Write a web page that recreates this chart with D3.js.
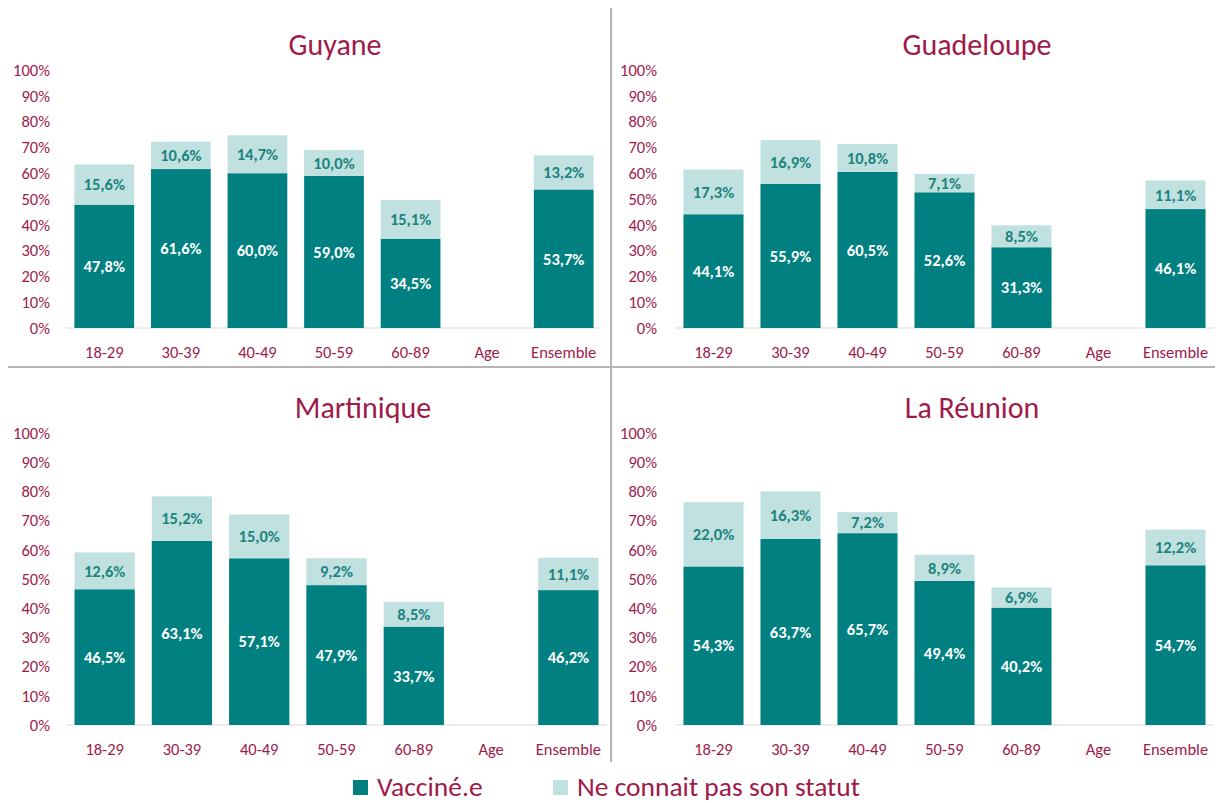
<!DOCTYPE html>
<html>
<head>
<meta charset="utf-8">
<script src="https://cdn.jsdelivr.net/npm/d3@7"></script>
<style>
  body { margin: 0; background: #fff; }
  svg { font-family: Carlito, Lato, "Open Sans", sans-serif; }
</style>
</head>
<body>
<div id="chart"></div>
<script>
// categories and tick labels
const categories = ["18-29", "30-39", "40-49", "50-59", "60-89", "Age", "Ensemble"];
const yTicks = [0, 10, 20, 30, 40, 50, 60, 70, 80, 90, 100];
const seriesNames = ["Vacciné.e", "Ne connait pas son statut"];

// values (null = empty "Age" slot)
const guyaneVacc = [47.8, 61.6, 60.0, 59.0, 34.5, null, 53.7];
const guyaneUnk = [15.6, 10.6, 14.7, 10.0, 15.1, null, 13.2];
const guadeloupeVacc = [44.1, 55.9, 60.5, 52.6, 31.3, null, 46.1];
const guadeloupeUnk = [17.3, 16.9, 10.8, 7.1, 8.5, null, 11.1];
const martiniqueVacc = [46.5, 63.1, 57.1, 47.9, 33.7, null, 46.2];
const martiniqueUnk = [12.6, 15.2, 15.0, 9.2, 8.5, null, 11.1];
const reunionVacc = [54.3, 63.7, 65.7, 49.4, 40.2, null, 54.7];
const reunionUnk = [22.0, 16.3, 7.2, 8.9, 6.9, null, 12.2];

const regions = ["Guyane", "Guadeloupe", "Martinique", "La Réunion"];

const dark = "#008080", light = "#c0e1df", maroon = "#9e1a4b";

// panel layout (pixels)
const panels = [
    { name: regions[0], vacc: guyaneVacc, unk: guyaneUnk, x0: 66, x1: 602, y0: 328, y1: 70, tickX: 50, titleX: 335, titleY: 55 },
    { name: regions[1], vacc: guadeloupeVacc, unk: guadeloupeUnk, x0: 675, x1: 1214, y0: 328, y1: 70, tickX: 657, titleX: 977, titleY: 55 },
    { name: regions[2], vacc: martiniqueVacc, unk: martiniqueUnk, x0: 66, x1: 607, y0: 725, y1: 433, tickX: 50, titleX: 363, titleY: 418 },
    { name: regions[3], vacc: reunionVacc, unk: reunionUnk, x0: 675, x1: 1214, y0: 725, y1: 433, tickX: 657, titleX: 972, titleY: 418 }
];

const fmt = v => d3.format(".1f")(v).replace(".", ",") + "%";

const svg = d3.select("#chart").append("svg")
    .attr("width", 1222)
    .attr("height", 803);

// separators between panels
svg.append("line").attr("x1", 611).attr("x2", 611).attr("y1", 8).attr("y2", 762)
    .attr("stroke", "#b4b4b4").attr("stroke-width", 2);
svg.append("line").attr("x1", 8).attr("x2", 1215).attr("y1", 367).attr("y2", 367)
    .attr("stroke", "#b4b4b4").attr("stroke-width", 2);

panels.forEach(function (p) {
    const g = svg.append("g");

    const x = d3.scaleBand()
        .domain(categories)
        .range([p.x0, p.x1])
        .paddingInner(0.22)
        .paddingOuter(0.11);

    const y = d3.scaleLinear()
        .domain([0, 100])
        .range([p.y0, p.y1]);

    // title
    g.append("text")
        .attr("x", p.titleX)
        .attr("y", p.titleY)
        .attr("text-anchor", "middle")
        .attr("font-size", "30px")
        .attr("fill", maroon)
        .text(p.name);

    // y tick labels
    g.selectAll(".ytick")
        .data(yTicks)
        .enter()
        .append("text")
        .attr("x", p.tickX)
        .attr("y", d => y(d))
        .attr("dy", "0.35em")
        .attr("text-anchor", "end")
        .attr("font-size", "16.5px")
        .attr("fill", maroon)
        .text(d => d + "%");

    // baseline
    g.append("line")
        .attr("x1", p.x0).attr("x2", p.x1)
        .attr("y1", y(0)).attr("y2", y(0))
        .attr("stroke", "#d9d9d9").attr("stroke-width", 1);

    // category labels
    g.selectAll(".xtick")
        .data(categories)
        .enter()
        .append("text")
        .attr("x", d => x(d) + x.bandwidth() / 2)
        .attr("y", y(0) + 24)
        .attr("dy", "0.35em")
        .attr("text-anchor", "middle")
        .attr("font-size", "16.5px")
        .attr("fill", maroon)
        .text(d => d);

    const rows = categories.map((c, i) => ({ cat: c, vacc: p.vacc[i], unk: p.unk[i] }))
        .filter(d => d.vacc != null);

    // vaccinated bars
    g.selectAll(".bar-vacc")
        .data(rows)
        .enter()
        .append("rect")
        .attr("x", d => x(d.cat))
        .attr("width", x.bandwidth())
        .attr("y", d => y(d.vacc))
        .attr("height", d => y(0) - y(d.vacc))
        .attr("fill", dark);

    // unknown-status bars stacked on top
    g.selectAll(".bar-unk")
        .data(rows)
        .enter()
        .append("rect")
        .attr("x", d => x(d.cat))
        .attr("width", x.bandwidth())
        .attr("y", d => y(d.vacc + d.unk))
        .attr("height", d => y(d.vacc) - y(d.vacc + d.unk))
        .attr("fill", light);

    // value labels
    g.selectAll(".lab-vacc")
        .data(rows)
        .enter()
        .append("text")
        .attr("x", d => x(d.cat) + x.bandwidth() / 2)
        .attr("y", d => y(d.vacc / 2))
        .attr("dy", "0.35em")
        .attr("text-anchor", "middle")
        .attr("font-size", "16.5px")
        .attr("font-weight", "bold")
        .attr("fill", "#ffffff")
        .text(d => fmt(d.vacc));

    g.selectAll(".lab-unk")
        .data(rows)
        .enter()
        .append("text")
        .attr("x", d => x(d.cat) + x.bandwidth() / 2)
        .attr("y", d => y(d.vacc + d.unk / 2))
        .attr("dy", "0.35em")
        .attr("text-anchor", "middle")
        .attr("font-size", "16.5px")
        .attr("font-weight", "bold")
        .attr("fill", "#1b8480")
        .text(d => fmt(d.unk));
});

// legend
const legendItems = [
    { label: seriesNames[0], color: dark, x: 353 },
    { label: seriesNames[1], color: light, x: 553 }
];
const legend = svg.selectAll(".legend")
    .data(legendItems)
    .enter()
    .append("g")
    .attr("transform", d => "translate(" + d.x + ",0)");
legend.append("rect")
    .attr("x", 0).attr("y", 780)
    .attr("width", 15).attr("height", 15)
    .attr("fill", d => d.color);
legend.append("text")
    .attr("x", 24).attr("y", 796)
    .attr("font-size", "27.5px")
    .attr("fill", maroon)
    .text(d => d.label);
</script>
</body>
</html>
